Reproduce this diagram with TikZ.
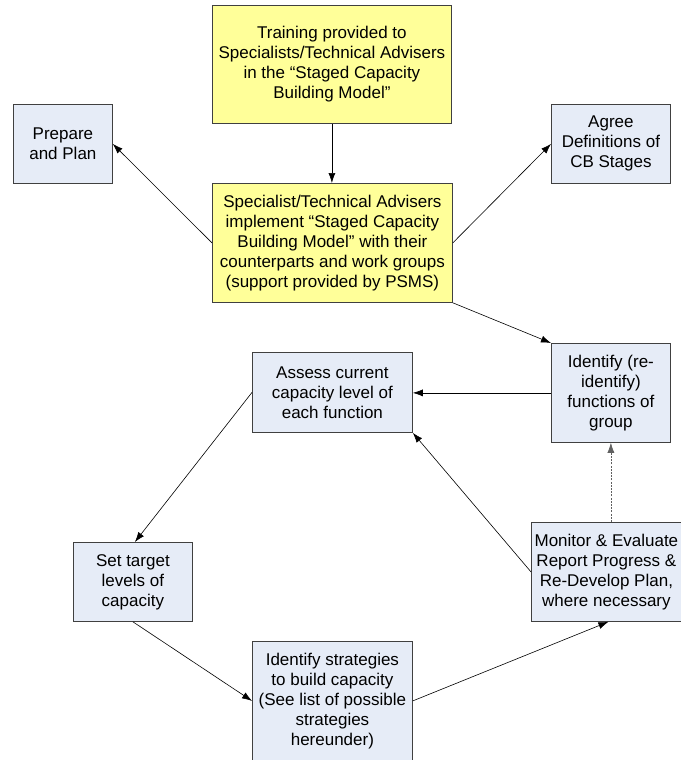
\documentclass[tikz,border=0pt]{standalone}
\usepackage{fontspec}
\setmainfont{Liberation Sans}
\usetikzlibrary{arrows.meta}
\definecolor{yelfill}{HTML}{FFFF99}
\definecolor{blufill}{HTML}{E6ECF7}
\definecolor{boxline}{HTML}{404040}
\definecolor{dashline}{HTML}{606060}
\begin{document}
\begin{tikzpicture}[x=1pt,y=1pt,
  box/.style={draw=boxline, line width=0.8pt, align=center, inner sep=0pt,
    font=\fontsize{17}{20}\selectfont, anchor=north west},
  yel/.style={box, fill=yelfill},
  blu/.style={box, fill=blufill},
  arr/.style={-{Latex[length=10pt,width=7pt]}, line width=0.6pt, draw=black},
  darr/.style={arr, draw=dashline, dash pattern=on 2pt off 1.2pt}]
\useasboundingbox (0,0) rectangle (680,-760);
\node[yel, minimum width=239pt, minimum height=118pt] (train) at (212,-5)
  {Training provided to\\Specialists/Technical Advisers\\in the “Staged Capacity\\Building Model”};
\node[yel, minimum width=240pt, minimum height=119pt] (spec) at (212,-183)
  {Specialist/Technical Advisers\\implement “Staged Capacity\\Building Model” with their\\counterparts and work groups\\(support provided by PSMS)};
\node[blu, minimum width=99pt, minimum height=79pt] (prep) at (13,-104)
  {Prepare\\and Plan};
\node[blu, minimum width=119pt, minimum height=79pt] (agree) at (551,-104)
  {Agree\\Definitions of\\CB Stages};
\node[blu, minimum width=119pt, minimum height=99pt] (ident) at (551,-343)
  {Identify (re-\\identify)\\functions of\\group};
\node[blu, minimum width=160pt, minimum height=80pt] (assess) at (252,-352)
  {Assess current\\capacity level of\\each function};
\node[blu, minimum width=150pt, minimum height=99pt] (mon) at (531,-522)
  {Monitor \& Evaluate\\Report Progress \&\\Re-Develop Plan,\\where necessary};
\node[blu, minimum width=119pt, minimum height=79pt] (settarget) at (73,-542)
  {Set target\\levels of\\capacity};
\node[blu, minimum width=160pt, minimum height=119pt] (strat) at (252,-641)
  {Identify strategies\\to build capacity\\(See list of possible\\strategies\\hereunder)};
\draw[arr] (train.south) -- (train.south |- spec.north);
\draw[arr] (spec.west) -- (prep.east);
\draw[arr] (spec.east) -- (agree.west);
\draw[arr] (spec.south east) -- (ident.north west);
\draw[arr] (ident.west) -- (ident.west -| assess.east);
\draw[arr] (assess.west) -- ([xshift=2pt]settarget.north);
\draw[arr] (settarget.south) -- (strat.west);
\draw[arr] (strat.east) -- ([xshift=2pt]mon.south);
\draw[arr] (mon.west) -- (assess.south east);
\draw[darr] (ident.south |- mon.north) -- (ident.south);
\end{tikzpicture}
\end{document}
